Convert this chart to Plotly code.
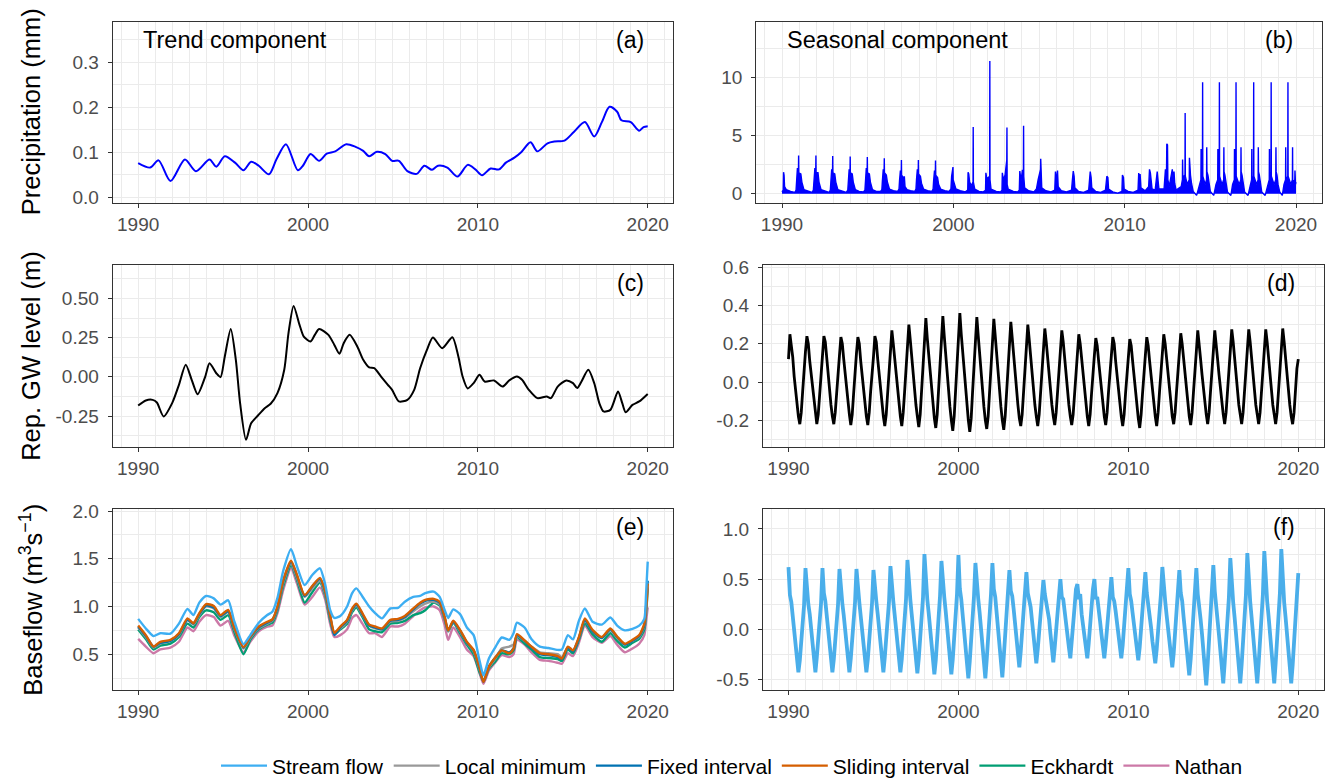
import plotly.graph_objects as go

# ---------------- data ----------------
x_tick_vals = [1990, 2000, 2010, 2020]
x_tick_text = ['1990', '2000', '2010', '2020']

# (a) precipitation trend
a_years = [1990.0, 1990.7, 1991.2, 1991.9, 1992.75, 1993.4, 1994.2, 1994.6, 1995.1, 1995.7,
           1996.2, 1996.65, 1997.1, 1997.7, 1998.15, 1998.7, 1999.4, 1999.7, 2000.15, 2000.65,
           2001.1, 2001.6, 2002.25, 2002.8, 2003.25, 2003.6, 2004.05, 2004.55, 2004.95, 2005.35,
           2005.85, 2006.4, 2006.85, 2007.3, 2007.65, 2008.2, 2008.8, 2009.4, 2009.85, 2010.25,
           2010.75, 2011.25, 2011.65, 2012.15, 2012.55, 2013.1, 2013.5, 2014.1, 2014.5, 2015.1,
           2015.65, 2016.3, 2016.85, 2017.3, 2017.75, 2018.2, 2018.45, 2019.0, 2019.5, 2019.75, 2020.0]
a_precip = [0.076, 0.066, 0.082, 0.036, 0.084, 0.058, 0.084, 0.068, 0.091, 0.077,
            0.060, 0.079, 0.070, 0.051, 0.085, 0.118, 0.060, 0.070, 0.096, 0.081,
            0.097, 0.102, 0.118, 0.112, 0.103, 0.091, 0.101, 0.096, 0.081, 0.081,
            0.058, 0.052, 0.070, 0.061, 0.070, 0.066, 0.046, 0.072, 0.062, 0.049,
            0.064, 0.062, 0.077, 0.088, 0.100, 0.122, 0.102, 0.120, 0.124, 0.126,
            0.145, 0.167, 0.135, 0.167, 0.201, 0.190, 0.171, 0.167, 0.148, 0.156, 0.158]

# (b) precipitation seasonal: (time, value) envelope vertices
b_points = [
    (1990.00, 0.15), (1990.07, 0.3), (1990.08, 1.0), (1990.09, 1.85), (1990.12, 1.6), (1990.15, 0.6),
    (1990.25, 0.35), (1990.50, 0.2), (1990.75, 0.1),
    (1990.82, 0.3), (1990.85, 1.1), (1990.90, 2.2), (1990.96, 1.9), (1990.97, 3.3), (1990.98, 1.8),
    (1991.10, 1.7), (1991.16, 1.0), (1991.28, 0.35), (1991.50, 0.2), (1991.75, 0.1),
    (1991.83, 0.3), (1991.86, 1.1), (1991.92, 2.2), (1991.97, 1.9), (1991.98, 3.3), (1991.99, 1.8),
    (1992.10, 1.8), (1992.16, 1.0), (1992.28, 0.35), (1992.50, 0.2), (1992.75, 0.1),
    (1992.82, 0.3), (1992.85, 1.0), (1992.90, 2.1), (1992.95, 1.9), (1992.96, 3.25), (1992.97, 1.8),
    (1993.08, 1.7), (1993.14, 1.0), (1993.26, 0.35), (1993.50, 0.2), (1993.75, 0.1),
    (1993.84, 0.3), (1993.87, 1.0), (1993.92, 2.1), (1993.97, 1.9), (1993.98, 3.2), (1993.99, 1.8),
    (1994.10, 1.7), (1994.16, 1.0), (1994.28, 0.35), (1994.50, 0.2), (1994.75, 0.15),
    (1994.84, 0.3), (1994.87, 1.0), (1994.92, 2.2), (1994.97, 1.9), (1994.98, 3.15), (1994.99, 1.8),
    (1995.10, 1.7), (1995.16, 1.0), (1995.28, 0.35), (1995.50, 0.2), (1995.75, 0.2),
    (1995.83, 0.35), (1995.86, 1.1), (1995.91, 2.1), (1995.96, 1.9), (1995.97, 3.05), (1995.98, 1.8),
    (1996.09, 1.6), (1996.15, 1.0), (1996.27, 0.4), (1996.50, 0.25), (1996.75, 0.2),
    (1996.83, 0.4), (1996.86, 1.1), (1996.91, 2.0), (1996.96, 1.8), (1996.97, 2.9), (1996.98, 1.6),
    (1997.08, 1.4), (1997.12, 0.8), (1997.14, 1.5), (1997.18, 0.6), (1997.30, 0.35), (1997.50, 0.25),
    (1997.75, 0.2),
    (1997.82, 0.4), (1997.85, 1.2), (1997.90, 2.1), (1997.95, 1.8), (1997.96, 2.9), (1997.97, 1.7),
    (1998.08, 1.5), (1998.14, 0.9), (1998.26, 0.4), (1998.50, 0.25), (1998.75, 0.2),
    (1998.82, 0.4), (1998.85, 1.1), (1998.90, 2.0), (1998.95, 1.8), (1998.96, 2.85), (1998.97, 1.6),
    (1999.08, 1.4), (1999.14, 0.8), (1999.26, 0.4), (1999.50, 0.25), (1999.75, 0.2),
    (1999.86, 0.4), (1999.90, 1.5), (1999.95, 2.1), (1999.98, 2.3), (1999.99, 1.2), (2000.08, 0.7),
    (2000.15, 0.4), (2000.40, 0.25), (2000.70, 0.15),
    (2000.84, 0.3), (2000.86, 1.85), (2000.90, 1.7), (2000.95, 1.0), (2001.05, 0.7), (2001.15, 1.0),
    (2001.16, 5.75), (2001.17, 1.0), (2001.25, 0.4), (2001.50, 0.2), (2001.75, 0.15),
    (2001.88, 0.3), (2001.90, 1.8), (2001.95, 1.3), (2002.05, 1.4), (2002.12, 1.5), (2002.13, 11.45),
    (2002.14, 1.2), (2002.20, 0.4), (2002.50, 0.2), (2002.75, 0.15),
    (2002.84, 0.3), (2002.86, 1.8), (2002.92, 1.2), (2003.02, 1.6), (2003.08, 2.8), (2003.12, 2.9),
    (2003.13, 5.7), (2003.14, 0.8), (2003.20, 0.4), (2003.50, 0.2), (2003.75, 0.15),
    (2003.85, 0.3), (2003.88, 1.95), (2003.95, 1.1), (2004.03, 2.0), (2004.09, 2.0), (2004.10, 5.85),
    (2004.11, 1.5), (2004.16, 0.5), (2004.40, 0.25), (2004.70, 0.15),
    (2004.85, 0.4), (2004.95, 1.2), (2005.05, 2.0), (2005.09, 2.1), (2005.10, 3.0), (2005.11, 1.6),
    (2005.16, 0.5), (2005.40, 0.25), (2005.70, 0.15),
    (2005.92, 0.3), (2005.96, 1.9), (2006.02, 1.0), (2006.08, 2.0), (2006.12, 0.6), (2006.30, 0.25),
    (2006.60, 0.15),
    (2006.90, 0.3), (2006.95, 1.2), (2007.00, 1.95), (2007.05, 1.5), (2007.09, 0.5), (2007.30, 0.2),
    (2007.60, 0.1),
    (2007.90, 0.3), (2007.95, 1.2), (2007.99, 1.9), (2008.04, 1.4), (2008.08, 0.5), (2008.30, 0.2),
    (2008.60, 0.1),
    (2008.88, 0.3), (2008.92, 1.3), (2008.96, 1.5), (2009.02, 1.4), (2009.06, 0.4), (2009.30, 0.15),
    (2009.60, 0.05),
    (2009.84, 0.2), (2009.87, 1.6), (2009.93, 1.4), (2009.97, 0.4), (2010.20, 0.2), (2010.50, 0.1),
    (2010.78, 0.3), (2010.82, 1.78), (2010.86, 0.9), (2010.90, 1.7), (2010.95, 0.5), (2011.20, 0.25),
    (2011.40, 0.6), (2011.45, 2.1), (2011.50, 1.8), (2011.55, 1.2), (2011.60, 0.4), (2011.78, 0.3),
    (2011.83, 1.2), (2011.90, 1.9), (2011.95, 1.1), (2012.00, 0.4),
    (2012.30, 0.4), (2012.38, 2.1), (2012.44, 1.5), (2012.46, 4.3), (2012.50, 4.2), (2012.52, 1.2),
    (2012.60, 0.6), (2012.78, 2.1), (2012.83, 1.2), (2012.88, 1.9), (2012.92, 0.9), (2013.00, 0.3),
    (2013.30, 0.6), (2013.37, 1.2), (2013.38, 2.95), (2013.40, 1.2), (2013.45, 1.5), (2013.52, 1.6),
    (2013.53, 6.95), (2013.54, 1.5), (2013.65, 0.8), (2013.77, 1.2), (2013.78, 3.1), (2013.80, 1.9),
    (2013.84, 1.6), (2013.90, 0.9), (2014.00, 0.2), (2014.20, -0.15),
    (2014.35, 0.8), (2014.45, 1.2), (2014.46, 3.85), (2014.47, 1.2), (2014.54, 1.5), (2014.55, 9.6),
    (2014.56, 1.5), (2014.70, 0.8), (2014.78, 1.2), (2014.79, 4.0), (2014.80, 1.9), (2014.86, 1.6),
    (2014.92, 0.9), (2015.00, 0.2), (2015.20, -0.15),
    (2015.33, 0.8), (2015.43, 1.2), (2015.44, 3.85), (2015.45, 1.2), (2015.52, 1.5), (2015.53, 9.6),
    (2015.54, 1.5), (2015.68, 0.8), (2015.78, 1.2), (2015.79, 4.0), (2015.80, 1.9), (2015.85, 1.6),
    (2015.92, 0.8), (2016.00, 0.15), (2016.20, -0.15),
    (2016.30, 0.8), (2016.40, 1.2), (2016.41, 3.85), (2016.42, 1.2), (2016.49, 1.5), (2016.50, 9.6),
    (2016.51, 1.5), (2016.68, 0.8), (2016.78, 1.2), (2016.79, 4.0), (2016.80, 1.9), (2016.85, 1.6),
    (2016.92, 0.8), (2017.00, 0.15), (2017.20, -0.15),
    (2017.32, 0.8), (2017.41, 1.2), (2017.42, 3.85), (2017.43, 1.2), (2017.52, 1.5), (2017.53, 9.6),
    (2017.54, 1.5), (2017.70, 0.8), (2017.79, 1.2), (2017.80, 4.0), (2017.81, 1.9), (2017.86, 1.6),
    (2017.93, 0.8), (2018.00, 0.15), (2018.20, -0.15),
    (2018.34, 0.8), (2018.44, 1.2), (2018.45, 3.85), (2018.46, 1.2), (2018.54, 1.5), (2018.55, 9.6),
    (2018.56, 1.5), (2018.72, 0.8), (2018.82, 1.2), (2018.83, 4.0), (2018.84, 1.9), (2018.89, 1.6),
    (2018.95, 0.8), (2019.05, 0.15), (2019.20, -0.15),
    (2019.30, 0.8), (2019.39, 1.2), (2019.40, 4.0), (2019.41, 1.2), (2019.52, 1.5), (2019.53, 9.6),
    (2019.54, 1.5), (2019.70, 0.8), (2019.79, 1.2), (2019.80, 4.0), (2019.81, 1.2), (2019.86, 1.0),
    (2019.93, 1.2), (2019.94, 2.0), (2019.97, 0.8), (2020.00, 1.0),
]

# (c) groundwater trend
c_years = [1990.0, 1990.45, 1990.85, 1991.1, 1991.5, 1992.0, 1992.4, 1992.8, 1993.15, 1993.5,
           1993.95, 1994.2, 1994.6, 1994.85, 1995.1, 1995.45, 1995.75, 1996.0, 1996.35, 1996.65,
           1997.05, 1997.45, 1997.8, 1998.2, 1998.6, 1998.85, 1999.15, 1999.5, 1999.75, 2000.15,
           2000.4, 2000.65, 2001.2, 2001.55, 2001.85, 2002.1, 2002.45, 2002.9, 2003.25, 2003.6,
           2003.9, 2004.3, 2004.7, 2004.95, 2005.35, 2005.85, 2006.25, 2006.6, 2007.0, 2007.35,
           2007.9, 2008.5, 2008.85, 2009.1, 2009.4, 2009.75, 2010.1, 2010.4, 2010.95, 2011.45,
           2011.85, 2012.3, 2012.6, 2013.0, 2013.5, 2014.05, 2014.3, 2014.7, 2015.2, 2015.6,
           2015.85, 2016.1, 2016.5, 2016.85, 2017.15, 2017.4, 2017.8, 2018.25, 2018.5, 2018.7,
           2019.1, 2019.5, 2020.0]
c_gw = [-0.183, -0.151, -0.147, -0.164, -0.253, -0.168, -0.051, 0.077, -0.019, -0.111,
        0.002, 0.087, 0.023, -0.002, 0.130, 0.306, 0.109, -0.168, -0.402, -0.296,
        -0.247, -0.200, -0.172, -0.104, 0.045, 0.279, 0.453, 0.332, 0.257, 0.226,
        0.268, 0.306, 0.268, 0.204, 0.147, 0.215, 0.268, 0.194, 0.109, 0.060,
        0.055, 0.002, -0.051, -0.083, -0.157, -0.147, -0.083, 0.055, 0.172, 0.251,
        0.183, 0.253, 0.130, 0.002, -0.074, -0.040, 0.013, -0.030, -0.023, -0.062,
        -0.023, 0.002, -0.019, -0.083, -0.136, -0.126, -0.136, -0.062, -0.023, -0.040,
        -0.072, -0.030, 0.045, -0.040, -0.168, -0.221, -0.211, -0.094, -0.168, -0.226,
        -0.179, -0.157, -0.109]

# (d) groundwater seasonal, monthly rows (Jan..Dec) for 1990..2019, then value at 2020.0
d_start_year = 1990
d_monthly = [
    [0.12, 0.25, 0.19, 0.13, 0.03, -0.05, -0.12, -0.18, -0.22, -0.16, -0.05, 0.08],
    [0.16, 0.24, 0.20, 0.11, 0.04, -0.04, -0.11, -0.17, -0.22, -0.17, -0.06, 0.07],
    [0.15, 0.24, 0.21, 0.12, 0.03, -0.05, -0.12, -0.18, -0.22, -0.16, -0.05, 0.08],
    [0.14, 0.235, 0.20, 0.12, 0.04, -0.04, -0.11, -0.17, -0.225, -0.17, -0.06, 0.06],
    [0.15, 0.235, 0.20, 0.11, 0.03, -0.05, -0.12, -0.18, -0.225, -0.16, -0.05, 0.07],
    [0.13, 0.24, 0.21, 0.12, 0.04, -0.04, -0.12, -0.18, -0.23, -0.17, -0.06, 0.07],
    [0.15, 0.27, 0.20, 0.12, 0.04, -0.05, -0.12, -0.18, -0.23, -0.16, -0.05, 0.08],
    [0.16, 0.30, 0.22, 0.13, 0.04, -0.04, -0.12, -0.18, -0.235, -0.17, -0.05, 0.09],
    [0.17, 0.335, 0.23, 0.14, 0.05, -0.04, -0.12, -0.19, -0.24, -0.17, -0.04, 0.10],
    [0.18, 0.345, 0.24, 0.14, 0.05, -0.05, -0.13, -0.20, -0.255, -0.18, -0.05, 0.10],
    [0.19, 0.36, 0.25, 0.15, 0.05, -0.05, -0.13, -0.20, -0.26, -0.19, -0.05, 0.10],
    [0.18, 0.34, 0.24, 0.14, 0.04, -0.05, -0.13, -0.20, -0.245, -0.18, -0.05, 0.10],
    [0.18, 0.33, 0.24, 0.14, 0.04, -0.05, -0.13, -0.20, -0.25, -0.18, -0.05, 0.09],
    [0.17, 0.315, 0.23, 0.13, 0.04, -0.05, -0.12, -0.19, -0.23, -0.17, -0.05, 0.09],
    [0.16, 0.30, 0.22, 0.13, 0.04, -0.05, -0.12, -0.18, -0.23, -0.17, -0.05, 0.08],
    [0.16, 0.28, 0.21, 0.12, 0.04, -0.05, -0.12, -0.18, -0.225, -0.16, -0.05, 0.08],
    [0.15, 0.27, 0.21, 0.12, 0.03, -0.05, -0.12, -0.18, -0.225, -0.17, -0.05, 0.07],
    [0.15, 0.25, 0.20, 0.12, 0.04, -0.05, -0.12, -0.18, -0.23, -0.17, -0.06, 0.07],
    [0.14, 0.23, 0.19, 0.11, 0.03, -0.05, -0.12, -0.18, -0.225, -0.16, -0.05, 0.07],
    [0.14, 0.235, 0.20, 0.11, 0.03, -0.05, -0.12, -0.18, -0.23, -0.17, -0.06, 0.06],
    [0.13, 0.225, 0.19, 0.11, 0.03, -0.06, -0.13, -0.19, -0.24, -0.17, -0.06, 0.06],
    [0.14, 0.235, 0.19, 0.11, 0.03, -0.05, -0.12, -0.18, -0.23, -0.16, -0.05, 0.07],
    [0.15, 0.25, 0.20, 0.12, 0.04, -0.05, -0.12, -0.18, -0.22, -0.16, -0.05, 0.07],
    [0.15, 0.255, 0.20, 0.12, 0.04, -0.05, -0.12, -0.18, -0.225, -0.16, -0.05, 0.08],
    [0.16, 0.27, 0.21, 0.12, 0.04, -0.04, -0.11, -0.17, -0.22, -0.16, -0.05, 0.08],
    [0.16, 0.27, 0.21, 0.12, 0.04, -0.04, -0.11, -0.17, -0.22, -0.16, -0.05, 0.08],
    [0.16, 0.275, 0.21, 0.12, 0.04, -0.04, -0.12, -0.17, -0.22, -0.16, -0.05, 0.08],
    [0.16, 0.275, 0.21, 0.12, 0.04, -0.05, -0.12, -0.17, -0.22, -0.16, -0.05, 0.08],
    [0.16, 0.275, 0.21, 0.12, 0.04, -0.05, -0.12, -0.17, -0.22, -0.16, -0.05, 0.08],
    [0.17, 0.28, 0.21, 0.12, 0.04, -0.05, -0.12, -0.18, -0.22, -0.16, -0.05, 0.07],
]
d_end_value = 0.12

# (e) baseflow trend
e_years = [1990.0, 1990.45, 1990.9, 1991.3, 1991.9, 1992.4, 1992.9, 1993.25, 1993.6, 1994.0,
           1994.45, 1994.85, 1995.3, 1995.65, 1996.2, 1996.6, 1997.1, 1997.6, 1997.9, 1998.2,
           1998.55, 1999.0, 1999.35, 1999.8, 2000.25, 2000.7, 2001.0, 2001.3, 2001.55, 2001.9,
           2002.3, 2002.6, 2002.85, 2003.2, 2003.6, 2003.95, 2004.35, 2004.85, 2005.3, 2005.7,
           2006.2, 2006.6, 2006.9, 2007.4, 2007.75, 2008.05, 2008.25, 2008.55, 2008.95, 2009.35,
           2009.75, 2010.1, 2010.33, 2010.65, 2011.05, 2011.4, 2011.85, 2012.1, 2012.3, 2012.75,
           2013.15, 2013.65, 2014.15, 2014.7, 2014.95, 2015.3, 2015.6, 2015.95, 2016.3, 2016.75,
           2017.3, 2017.8, 2018.2, 2018.65, 2019.1, 2019.5, 2019.8, 2019.9, 2020.0]
e_stream = [0.87, 0.77, 0.69, 0.72, 0.715, 0.82, 0.975, 0.91, 1.04, 1.11,
            1.085, 1.02, 1.065, 0.85, 0.605, 0.70, 0.83, 0.91, 0.945, 1.09,
            1.38, 1.60, 1.42, 1.225, 1.33, 1.40, 1.24, 0.965, 0.88, 0.90,
            1.00, 1.14, 1.19, 1.105, 1.00, 0.93, 0.875, 0.98, 0.985, 1.05,
            1.10, 1.11, 1.14, 1.155, 1.10, 0.96, 0.88, 0.97, 0.92, 0.78,
            0.70, 0.43, 0.28, 0.455, 0.58, 0.675, 0.65, 0.72, 0.83, 0.78,
            0.66, 0.58, 0.565, 0.545, 0.55, 0.70, 0.655, 0.85, 0.98, 0.84,
            0.81, 0.885, 0.80, 0.75, 0.765, 0.80, 0.87, 1.12, 1.47]
e_local_min = [0.78, 0.68, 0.57, 0.61, 0.64, 0.70, 0.86, 0.81, 0.91, 1.00,
               0.98, 0.89, 0.94, 0.77, 0.56, 0.67, 0.77, 0.82, 0.85, 0.98,
               1.25, 1.45, 1.30, 1.10, 1.19, 1.27, 1.14, 0.89, 0.73, 0.77,
               0.84, 0.96, 1.01, 0.91, 0.80, 0.77, 0.76, 0.84, 0.85, 0.88,
               0.95, 1.00, 1.03, 1.05, 1.02, 0.87, 0.74, 0.84, 0.74, 0.62,
               0.53, 0.34, 0.21, 0.36, 0.46, 0.56, 0.58, 0.60, 0.69, 0.64,
               0.58, 0.52, 0.51, 0.50, 0.47, 0.57, 0.54, 0.67, 0.85, 0.74,
               0.67, 0.75, 0.67, 0.60, 0.64, 0.68, 0.79, 0.93, 1.20]
e_fixed = [0.79, 0.69, 0.58, 0.62, 0.64, 0.71, 0.86, 0.82, 0.92, 1.01,
           0.99, 0.90, 0.95, 0.78, 0.57, 0.68, 0.78, 0.83, 0.86, 0.99,
           1.27, 1.47, 1.32, 1.11, 1.21, 1.29, 1.16, 0.90, 0.70, 0.78,
           0.85, 0.97, 1.02, 0.92, 0.80, 0.78, 0.76, 0.85, 0.86, 0.89,
           0.97, 1.03, 1.06, 1.07, 1.04, 0.88, 0.75, 0.84, 0.75, 0.62,
           0.54, 0.35, 0.21, 0.37, 0.47, 0.54, 0.52, 0.56, 0.70, 0.64,
           0.57, 0.50, 0.49, 0.47, 0.45, 0.57, 0.53, 0.67, 0.86, 0.74,
           0.67, 0.76, 0.68, 0.60, 0.64, 0.69, 0.80, 0.99, 1.27]
e_sliding = [0.80, 0.70, 0.58, 0.63, 0.65, 0.72, 0.875, 0.825, 0.93, 1.025,
             1.005, 0.91, 0.965, 0.785, 0.575, 0.685, 0.79, 0.84, 0.865, 1.00,
             1.28, 1.48, 1.33, 1.12, 1.215, 1.30, 1.17, 0.91, 0.725, 0.79,
             0.86, 0.98, 1.03, 0.93, 0.81, 0.79, 0.77, 0.86, 0.87, 0.90,
             0.98, 1.04, 1.07, 1.08, 1.05, 0.89, 0.75, 0.85, 0.755, 0.63,
             0.545, 0.36, 0.21, 0.37, 0.47, 0.54, 0.51, 0.56, 0.71, 0.645,
             0.58, 0.51, 0.50, 0.48, 0.455, 0.58, 0.54, 0.68, 0.875, 0.755,
             0.68, 0.77, 0.685, 0.61, 0.65, 0.70, 0.82, 0.97, 1.24]
e_eckhardt = [0.76, 0.66, 0.55, 0.59, 0.61, 0.68, 0.82, 0.78, 0.89, 0.96,
              0.94, 0.86, 0.91, 0.74, 0.50, 0.65, 0.76, 0.81, 0.83, 0.96,
              1.22, 1.43, 1.28, 1.04, 1.15, 1.25, 1.12, 0.86, 0.71, 0.76,
              0.82, 0.94, 0.99, 0.89, 0.76, 0.74, 0.73, 0.82, 0.83, 0.85,
              0.91, 0.93, 0.96, 1.04, 1.01, 0.86, 0.74, 0.83, 0.72, 0.60,
              0.50, 0.31, 0.22, 0.35, 0.43, 0.51, 0.50, 0.54, 0.68, 0.61,
              0.55, 0.47, 0.46, 0.45, 0.43, 0.55, 0.51, 0.65, 0.82, 0.71,
              0.63, 0.72, 0.64, 0.57, 0.62, 0.66, 0.76, 0.92, 1.18]
e_nathan = [0.66, 0.58, 0.51, 0.55, 0.57, 0.63, 0.78, 0.74, 0.84, 0.91,
            0.89, 0.80, 0.85, 0.70, 0.52, 0.63, 0.74, 0.79, 0.80, 0.93,
            1.18, 1.40, 1.24, 1.02, 1.10, 1.20, 1.08, 0.82, 0.68, 0.70,
            0.76, 0.88, 0.91, 0.82, 0.72, 0.72, 0.68, 0.79, 0.79, 0.82,
            0.90, 0.96, 0.99, 1.00, 0.96, 0.80, 0.65, 0.78, 0.68, 0.55,
            0.48, 0.30, 0.19, 0.33, 0.42, 0.49, 0.47, 0.50, 0.65, 0.60,
            0.52, 0.44, 0.43, 0.41, 0.40, 0.51, 0.48, 0.62, 0.80, 0.68,
            0.62, 0.69, 0.60, 0.52, 0.56, 0.61, 0.70, 0.84, 0.99]

# (f) stream flow seasonal, monthly rows (Jan..Dec) for 1990..2019, then value at 2020.0
f_start_year = 1990
f_stream_monthly = [
    [0.62, 0.34, 0.27, 0.13, 0.03, -0.12, -0.29, -0.43, -0.31, -0.13, 0.07, 0.24],
    [0.61, 0.38, 0.25, 0.15, 0.0, -0.15, -0.30, -0.43, -0.28, -0.12, 0.05, 0.26],
    [0.61, 0.36, 0.28, 0.12, 0.02, -0.14, -0.31, -0.43, -0.30, -0.10, 0.06, 0.25],
    [0.60, 0.37, 0.26, 0.14, 0.01, -0.16, -0.30, -0.43, -0.29, -0.13, 0.08, 0.27],
    [0.60, 0.36, 0.27, 0.13, 0.0, -0.14, -0.31, -0.43, -0.30, -0.12, 0.05, 0.26],
    [0.59, 0.38, 0.28, 0.15, 0.02, -0.15, -0.30, -0.43, -0.28, -0.11, 0.07, 0.28],
    [0.63, 0.40, 0.28, 0.14, 0.0, -0.16, -0.31, -0.43, -0.30, -0.10, 0.08, 0.30],
    [0.69, 0.42, 0.30, 0.15, 0.01, -0.15, -0.32, -0.44, -0.29, -0.12, 0.10, 0.32],
    [0.75, 0.45, 0.30, 0.16, 0.0, -0.17, -0.33, -0.45, -0.31, -0.12, 0.10, 0.33],
    [0.68, 0.44, 0.32, 0.18, 0.02, -0.16, -0.34, -0.45, -0.30, -0.10, 0.12, 0.35],
    [0.74, 0.40, 0.30, 0.15, 0.0, -0.18, -0.36, -0.49, -0.32, -0.12, 0.10, 0.33],
    [0.66, 0.42, 0.30, 0.16, 0.02, -0.16, -0.35, -0.49, -0.30, -0.10, 0.12, 0.35],
    [0.66, 0.40, 0.32, 0.15, 0.0, -0.17, -0.34, -0.48, -0.28, -0.08, 0.14, 0.36],
    [0.59, 0.38, 0.33, 0.20, 0.05, -0.10, -0.25, -0.38, -0.22, -0.05, 0.15, 0.35],
    [0.57, 0.36, 0.30, 0.22, 0.08, -0.08, -0.22, -0.34, -0.20, -0.02, 0.18, 0.36],
    [0.49, 0.35, 0.28, 0.20, 0.10, -0.05, -0.20, -0.33, -0.18, 0.0, 0.20, 0.38],
    [0.50, 0.32, 0.30, 0.18, 0.08, -0.05, -0.18, -0.29, -0.15, 0.02, 0.22, 0.40],
    [0.45, 0.30, 0.35, 0.15, 0.05, -0.06, -0.18, -0.29, -0.14, 0.05, 0.25, 0.40],
    [0.50, 0.30, 0.32, 0.16, 0.08, -0.05, -0.17, -0.29, -0.15, 0.04, 0.22, 0.38],
    [0.52, 0.32, 0.28, 0.18, 0.05, -0.08, -0.18, -0.29, -0.16, 0.02, 0.20, 0.38],
    [0.61, 0.35, 0.28, 0.16, 0.04, -0.10, -0.20, -0.31, -0.18, 0.0, 0.18, 0.36],
    [0.57, 0.36, 0.26, 0.15, 0.02, -0.12, -0.24, -0.34, -0.20, -0.04, 0.16, 0.35],
    [0.62, 0.38, 0.28, 0.14, 0.0, -0.14, -0.27, -0.38, -0.24, -0.06, 0.14, 0.33],
    [0.59, 0.36, 0.28, 0.12, -0.02, -0.18, -0.32, -0.46, -0.30, -0.10, 0.10, 0.32],
    [0.61, 0.35, 0.25, 0.10, -0.05, -0.22, -0.40, -0.56, -0.35, -0.12, 0.08, 0.30],
    [0.64, 0.38, 0.26, 0.10, -0.06, -0.22, -0.38, -0.54, -0.34, -0.12, 0.10, 0.32],
    [0.71, 0.40, 0.27, 0.12, -0.05, -0.21, -0.38, -0.54, -0.35, -0.12, 0.10, 0.34],
    [0.76, 0.42, 0.28, 0.12, -0.04, -0.22, -0.39, -0.54, -0.34, -0.10, 0.12, 0.35],
    [0.78, 0.44, 0.28, 0.13, -0.05, -0.22, -0.38, -0.54, -0.34, -0.11, 0.11, 0.36],
    [0.80, 0.42, 0.27, 0.12, -0.04, -0.22, -0.39, -0.54, -0.36, -0.12, 0.10, 0.35],
]
f_end_value = 0.56

# tick labels
a_ticks = [0.0, 0.1, 0.2, 0.3]; a_ticktext = ['0.0', '0.1', '0.2', '0.3']
b_ticks = [0, 5, 10]; b_ticktext = ['0', '5', '10']
c_ticks = [-0.25, 0.0, 0.25, 0.5]; c_ticktext = ['-0.25', '0.00', '0.25', '0.50']
d_ticks = [-0.2, 0.0, 0.2, 0.4, 0.6]; d_ticktext = ['-0.2', '0.0', '0.2', '0.4', '0.6']
e_ticks = [0.5, 1.0, 1.5, 2.0]; e_ticktext = ['0.5', '1.0', '1.5', '2.0']
f_ticks = [-0.5, 0.0, 0.5, 1.0]; f_ticktext = ['-0.5', '0.0', '0.5', '1.0']

series_names = ['Stream flow', 'Local minimum', 'Fixed interval', 'Sliding interval', 'Eckhardt', 'Nathan']
series_colors = ['#3DAEF2', '#999999', '#0072B2', '#D55E00', '#009E73', '#CC79A7']

# ---------------- build figure ----------------
W, H = 1334, 782
OFF = 8  # page body margin offset of the figure
FONT = 'Liberation Sans, Arial, sans-serif'


def px_x(p):
    return (p - OFF) / W


def px_y(p):
    return 1 - (p - OFF) / H


def monthly(rows, start, end_value):
    xs, ys = [], []
    for i, row in enumerate(rows):
        for m, v in enumerate(row):
            xs.append(start + i + m / 12.0)
            ys.append(v)
    xs.append(start + len(rows))
    ys.append(end_value)
    return xs, ys


fig = go.Figure()

# (a)
fig.add_trace(go.Scatter(x=a_years, y=a_precip, mode='lines',
                         line=dict(color='#0000FF', width=2, shape='spline', smoothing=0.8),
                         xaxis='x', yaxis='y', showlegend=False, hoverinfo='skip'))
# (b)
fig.add_trace(go.Scatter(x=[p[0] for p in b_points], y=[p[1] for p in b_points], mode='lines',
                         line=dict(color='#0000FF', width=1.4), fill='tozeroy', fillcolor='#0000FF',
                         xaxis='x2', yaxis='y2', showlegend=False, hoverinfo='skip'))
# (c)
fig.add_trace(go.Scatter(x=c_years, y=c_gw, mode='lines',
                         line=dict(color='black', width=2, shape='spline', smoothing=0.7),
                         xaxis='x3', yaxis='y3', showlegend=False, hoverinfo='skip'))
# (d)
dx, dy = monthly(d_monthly, d_start_year, d_end_value)
fig.add_trace(go.Scatter(x=dx, y=dy, mode='lines', line=dict(color='black', width=2.8),
                         xaxis='x4', yaxis='y4', showlegend=False, hoverinfo='skip'))
# (e)
e_values = {'Stream flow': e_stream, 'Local minimum': e_local_min, 'Fixed interval': e_fixed,
            'Sliding interval': e_sliding, 'Eckhardt': e_eckhardt, 'Nathan': e_nathan}
draw_order = ['Nathan', 'Eckhardt', 'Local minimum', 'Fixed interval', 'Sliding interval', 'Stream flow']
for name in draw_order:
    k = series_names.index(name)
    fig.add_trace(go.Scatter(x=e_years, y=e_values[name], mode='lines', name=name, legendrank=k + 1,
                             line=dict(color=series_colors[k], width=2.4, shape='spline', smoothing=0.6),
                             xaxis='x5', yaxis='y5', showlegend=True, hoverinfo='skip'))
# (f)
fx, fy = monthly(f_stream_monthly, f_start_year, f_end_value)
fig.add_trace(go.Scatter(x=fx, y=fy, mode='lines', line=dict(color='#4AAEEA', width=3.8),
                         xaxis='x6', yaxis='y6', showlegend=False, hoverinfo='skip'))

# panel geometry (page pixels of the reference)
col1 = [px_x(112.7), px_x(673.2)]
col2_b = [px_x(756.3), px_x(1321.7)]
col2 = [px_x(763.0), px_x(1323.8)]
row1 = [px_y(202.7), px_y(21.7)]
row2 = [px_y(446.7), px_y(265.0)]
row3 = [px_y(690.0), px_y(509.3)]

GRID = '#EBEBEB'
BORDER = '#333333'
TICKFONT = dict(family=FONT, size=19, color='#4D4D4D')


def xaxis_cfg(domain, anchor):
    return dict(domain=domain, anchor=anchor, range=[1988.5, 2021.5], automargin=False,
                tickmode='array', tickvals=x_tick_vals, ticktext=x_tick_text,
                showgrid=True, gridcolor=GRID, gridwidth=1.2,
                minor=dict(tickmode='linear', tick0=1990, dtick=1, showgrid=True, gridcolor=GRID, gridwidth=0.8),
                showline=True, mirror=True, linecolor=BORDER, linewidth=1.2,
                ticks='outside', ticklen=4, tickwidth=1.1, tickcolor=BORDER,
                tickfont=TICKFONT, zeroline=False, fixedrange=True)


def yaxis_cfg(domain, anchor, rng, tv, tt, minor_step):
    return dict(domain=domain, anchor=anchor, range=rng, automargin=False,
                tickmode='array', tickvals=tv, ticktext=tt,
                showgrid=True, gridcolor=GRID, gridwidth=1.2,
                minor=dict(tickmode='linear', tick0=0, dtick=minor_step, showgrid=True, gridcolor=GRID, gridwidth=0.8),
                showline=True, mirror=True, linecolor=BORDER, linewidth=1.2,
                ticks='outside', ticklen=4, tickwidth=1.1, tickcolor=BORDER, ticklabelstandoff=5,
                tickfont=TICKFONT, zeroline=False, fixedrange=True)


fig.update_layout(
    template='none',
    width=W, height=H, margin=dict(l=0, r=0, t=0, b=0, pad=0, autoexpand=False),
    paper_bgcolor='white', plot_bgcolor='white',
    font=dict(family=FONT, color='black'),
    xaxis=xaxis_cfg(col1, 'y'), yaxis=yaxis_cfg(row1, 'x', [-0.012, 0.39], a_ticks, a_ticktext, 0.05),
    xaxis2=xaxis_cfg(col2_b, 'y2'), yaxis2=yaxis_cfg(row1, 'x2', [-0.78, 14.83], b_ticks, b_ticktext, 2.5),
    xaxis3=xaxis_cfg(col1, 'y3'), yaxis3=yaxis_cfg(row2, 'x3', [-0.446, 0.714], c_ticks, c_ticktext, 0.125),
    xaxis4=xaxis_cfg(col2, 'y4'), yaxis4=yaxis_cfg(row2, 'x4', [-0.338, 0.612], d_ticks, d_ticktext, 0.1),
    xaxis5=xaxis_cfg(col1, 'y5'), yaxis5=yaxis_cfg(row3, 'x5', [0.125, 2.018], e_ticks, e_ticktext, 0.25),
    xaxis6=xaxis_cfg(col2, 'y6'), yaxis6=yaxis_cfg(row3, 'x6', [-0.607, 1.196], f_ticks, f_ticktext, 0.25),
    legend=dict(orientation='h', x=px_x(732), xanchor='center', y=px_y(766), yanchor='middle',
                font=dict(family=FONT, size=21, color='black'), traceorder='normal',
                itemwidth=46, bgcolor='rgba(0,0,0,0)', borderwidth=0),
)

annotations = []
panel_axes = [('x', 'y', '(a)'), ('x2', 'y2', '(b)'), ('x3', 'y3', '(c)'),
              ('x4', 'y4', '(d)'), ('x5', 'y5', '(e)'), ('x6', 'y6', '(f)')]
for xa, ya, lab in panel_axes:
    annotations.append(dict(text=lab, xref=xa + ' domain', yref=ya + ' domain', x=0.952, y=0.9,
                            xanchor='right', yanchor='middle', showarrow=False,
                            font=dict(family=FONT, size=23, color='black')))
annotations.append(dict(text='Trend component', xref='x domain', yref='y domain', x=0.05, y=0.9,
                        xanchor='left', yanchor='middle', showarrow=False,
                        font=dict(family=FONT, size=23.5, color='black')))
annotations.append(dict(text='Seasonal component', xref='x2 domain', yref='y2 domain', x=0.05, y=0.9,
                        xanchor='left', yanchor='middle', showarrow=False,
                        font=dict(family=FONT, size=23.5, color='black')))
y_titles = ['Precipitation (mm)', 'Rep. GW level (m)', 'Baseflow (m<sup>3</sup>s<sup>\u22121</sup>)']
for r, t in enumerate(y_titles):
    dom = [row1, row2, row3][r]
    annotations.append(dict(text=t, xref='paper', yref='paper', x=px_x(31), y=(dom[0] + dom[1]) / 2,
                            xanchor='center', yanchor='middle', textangle=-90, showarrow=False,
                            font=dict(family=FONT, size=25.5, color='black')))
fig.update_layout(annotations=annotations)

fig.write_html('out.html')
